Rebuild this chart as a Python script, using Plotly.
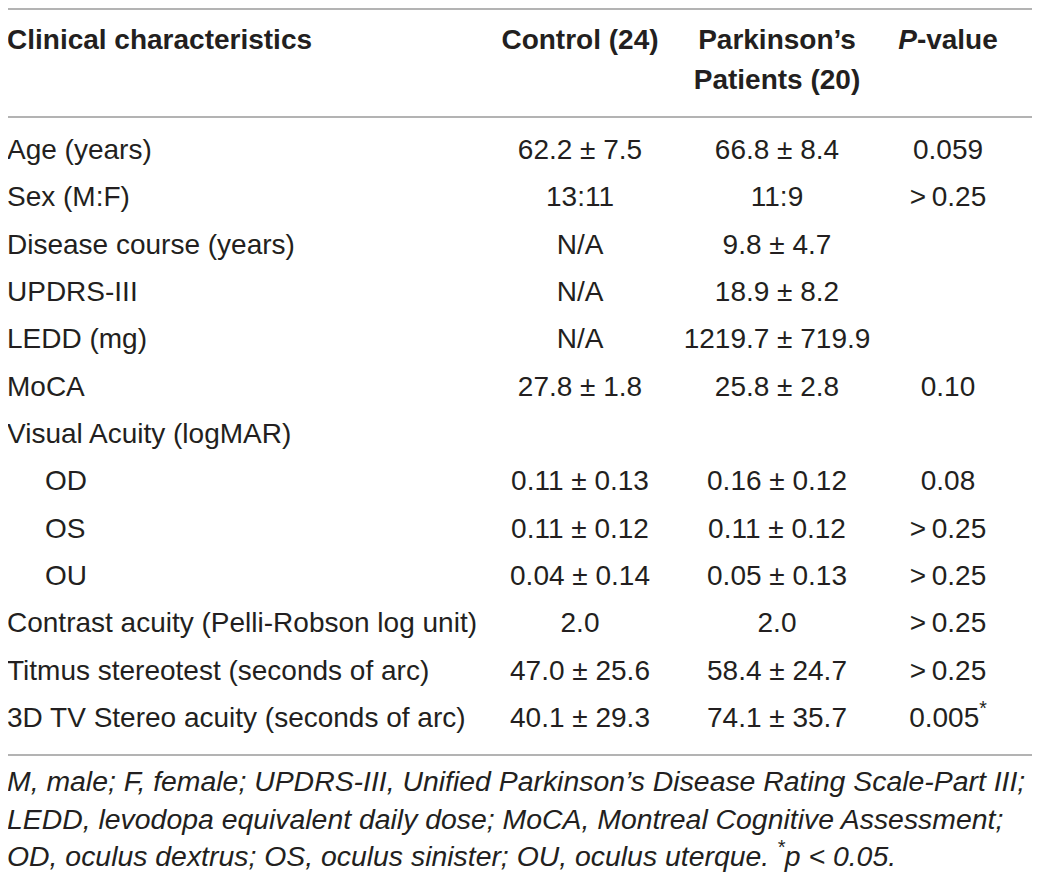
import plotly.graph_objects as go

# table content
row_labels = ['Age (years)', 'Sex (M:F)', 'Disease course (years)', 'UPDRS-III', 'LEDD (mg)', 'MoCA',
              'Visual Acuity (logMAR)', 'OD', 'OS', 'OU',
              'Contrast acuity (Pelli-Robson log unit)', 'Titmus stereotest (seconds of arc)',
              '3D TV Stereo acuity (seconds of arc)']
indented = ['OD', 'OS', 'OU']
control = ['62.2 ± 7.5', '13:11', 'N/A', 'N/A', 'N/A', '27.8 ± 1.8', '',
           '0.11 ± 0.13', '0.11 ± 0.12', '0.04 ± 0.14', '2.0', '47.0 ± 25.6', '40.1 ± 29.3']
parkinson = ['66.8 ± 8.4', '11:9', '9.8 ± 4.7', '18.9 ± 8.2', '1219.7 ± 719.9', '25.8 ± 2.8', '',
             '0.16 ± 0.12', '0.11 ± 0.12', '0.05 ± 0.13', '2.0', '58.4 ± 24.7', '74.1 ± 35.7']
p_values = ['0.059', '>\u20090.25', '', '', '', '0.10', '',
            '0.08', '>\u20090.25', '>\u20090.25', '>\u20090.25', '>\u20090.25', '0.005<sup>*</sup>']
headers = ['Clinical characteristics', 'Control (24)', 'Parkinson’s', '<i>P</i>-value']
header_line2 = 'Patients (20)'
footnote = ['M, male; F, female; UPDRS-III, Unified Parkinson’s Disease Rating Scale-Part III;',
            'LEDD, levodopa equivalent daily dose; MoCA, Montreal Cognitive Assessment;',
            'OD, oculus dextrus; OS, oculus sinister; OU, oculus uterque. <sup>*</sup>p < 0.05.']

# page body has an 8px margin, so the figure is shrunk and the axes are
# set so that data units equal screen pixels
PAD = 8
W, H = 1040, 878
FONT = 'Liberation Sans, Arial, sans-serif'
INK = '#231f20'
RULE = '#9a9a9a'

left_x = 7
indent_x = 45
col_x = [7, 580, 777, 948]
first_row, row_h = 152, 47.33
row_y = [first_row + i * row_h for i in range(len(row_labels))]
head_y = [42, 82]
foot_y = [784, 822, 859]
rules_y = [PAD + 1, 117, 755]

fig = go.Figure()

def add_text(x, y, text, pos, size=28, weight='normal', style='normal'):
    # skip empty cells
    keep = [i for i, t in enumerate(text) if t]
    fig.add_trace(go.Scatter(
        x=[x[i] for i in keep], y=[y[i] for i in keep], text=[text[i] for i in keep],
        mode='text', textposition=pos,
        textfont=dict(family=FONT, size=size, color=INK, weight=weight, style=style),
        hoverinfo='skip', showlegend=False))

# header
add_text([col_x[0]], [head_y[0]], [headers[0]], 'middle right', weight='bold')
add_text(col_x[1:], [head_y[0]] * 3, headers[1:], 'middle center', weight='bold')
add_text([col_x[2]], [head_y[1]], [header_line2], 'middle center', weight='bold')

# body
label_x = [indent_x if lab in indented else left_x for lab in row_labels]
add_text(label_x, row_y, row_labels, 'middle right')
for cx, col in zip(col_x[1:], [control, parkinson, p_values]):
    add_text([cx] * len(col), row_y, col, 'middle center')

# footnote
add_text([left_x] * 3, foot_y, footnote, 'middle right', size=28.4, style='italic')

for yy in rules_y:
    fig.add_shape(type='line', x0=6, x1=1035, y0=yy, y1=yy, xref='x', yref='y',
                  line=dict(color=RULE, width=1.5))

fig.update_xaxes(range=[PAD, W], visible=False, fixedrange=True)
fig.update_yaxes(range=[H, PAD], visible=False, fixedrange=True)
fig.update_layout(width=W - PAD, height=H - PAD, margin=dict(l=0, r=0, t=0, b=0),
                  paper_bgcolor='white', plot_bgcolor='white')

fig.write_html("out.html")
